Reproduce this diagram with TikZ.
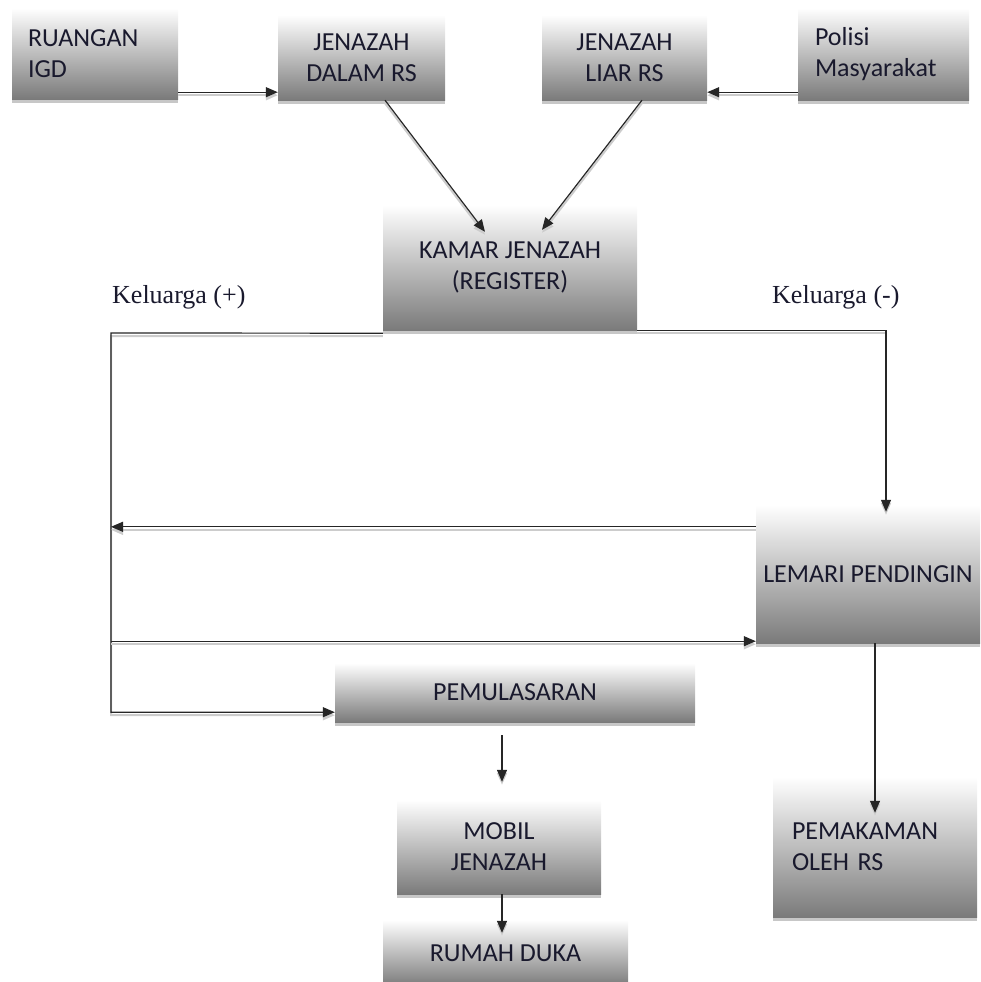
\documentclass[tikz,border=0pt]{standalone}
\usepackage{fontspec}
\setmainfont{Liberation Serif}
\newfontfamily\boxfont{Carlito}
\usetikzlibrary{arrows.meta,shadows}
\definecolor{textcol}{RGB}{25,25,45}
\tikzset{
  box/.style={rectangle, inner sep=0pt, align=center, text=textcol,
    font=\boxfont\fontsize{26}{31}\selectfont,
    top color=white, bottom color=black!52,
    drop shadow={shadow xshift=0pt, shadow yshift=-4pt, fill=black!22, opacity=1}},
  lab/.style={inner sep=0pt, text=textcol, font=\fontsize{26}{31}\selectfont},
  conn/.style={line width=1.2pt, draw=black!85,
    preaction={draw=black!20, line width=2pt, transform canvas={yshift=-3pt}}},
  arr/.style={conn, -{Triangle[length=12pt,width=10pt]}}
}
\begin{document}
\begin{tikzpicture}[x=1pt,y=-1pt]
\useasboundingbox (0,0) rectangle (980,982);
% boxes
\node[box, minimum width=166pt, minimum height=91pt, text width=134pt, align=left] (igd) at (95,53.5) {RUANGAN\\IGD};
\node[box, minimum width=167pt, minimum height=85pt] (dalam) at (361.5,57.5) {JENAZAH\\DALAM RS};
\node[box, minimum width=165pt, minimum height=85pt] (liar) at (624.5,57.5) {JENAZAH\\LIAR RS};
\node[box, minimum width=171pt, minimum height=92pt, text width=137pt, align=left] (polisi) at (883.5,54) {Polisi\\Masyarakat};
\node[box, minimum width=254pt, minimum height=125pt] (kamar) at (510,267.5) {KAMAR JENAZAH\\(REGISTER)};
\node[box, minimum width=224pt, minimum height=138pt] (lemari) at (868,574) {LEMARI PENDINGIN};
\node[box, minimum width=360pt, minimum height=59pt] (pem) at (515,692.5) {PEMULASARAN};
\node[box, minimum width=204pt, minimum height=140pt, text width=166pt, align=left] (makam) at (875,847) {PEMAKAMAN\\OLEH RS};
\node[box, minimum width=204pt, minimum height=94pt] (mobil) at (499,847) {MOBIL\\JENAZAH};
\node[box, minimum width=245pt, minimum height=66pt] (rumah) at (505.5,953) {RUMAH DUKA};
% labels
\node[lab, anchor=west] (kplus) at (112,297) {Keluarga (+)};
\node[lab, anchor=west] (kmin) at (772,297) {Keluarga (-)};
% connectors
\draw[arr] ([yshift=7pt]igd.south east) -- ([yshift=8pt]dalam.south west);
\draw[arr] ([yshift=8pt]polisi.south west) -- ([yshift=8pt]liar.south east);
\draw[arr] ([xshift=23.5pt]dalam.south) -- ([xshift=-25pt,yshift=-27pt]kamar.north);
\draw[arr] ([xshift=17.5pt]liar.south) -- ([xshift=32pt,yshift=-25pt]kamar.north);
\coordinate (L) at (111,333);
\draw[arr] ([yshift=-3pt]kamar.south west) -- (L) |- ([yshift=10pt]pem.south west);
\draw[arr] (kamar.south east) -| ([xshift=18pt,yshift=-7pt]lemari.north);
\coordinate (a1) at ([yshift=-22pt]lemari.north west);
\draw[arr] (a1) -- (L |- a1);
\coordinate (a2) at ([yshift=2pt]lemari.south west);
\draw[arr] (L |- a2) -- (a2);
\draw[arr] ([xshift=7pt]lemari.south) -- ([yshift=-36pt]makam.north);
\draw[arr] ([xshift=-13pt,yshift=-13pt]pem.south) -- ([xshift=3pt,yshift=18pt]mobil.north);
\draw[arr] ([xshift=3pt]mobil.south) -- ([xshift=-3.5pt,yshift=-13pt]rumah.north);
\end{tikzpicture}
\end{document}
